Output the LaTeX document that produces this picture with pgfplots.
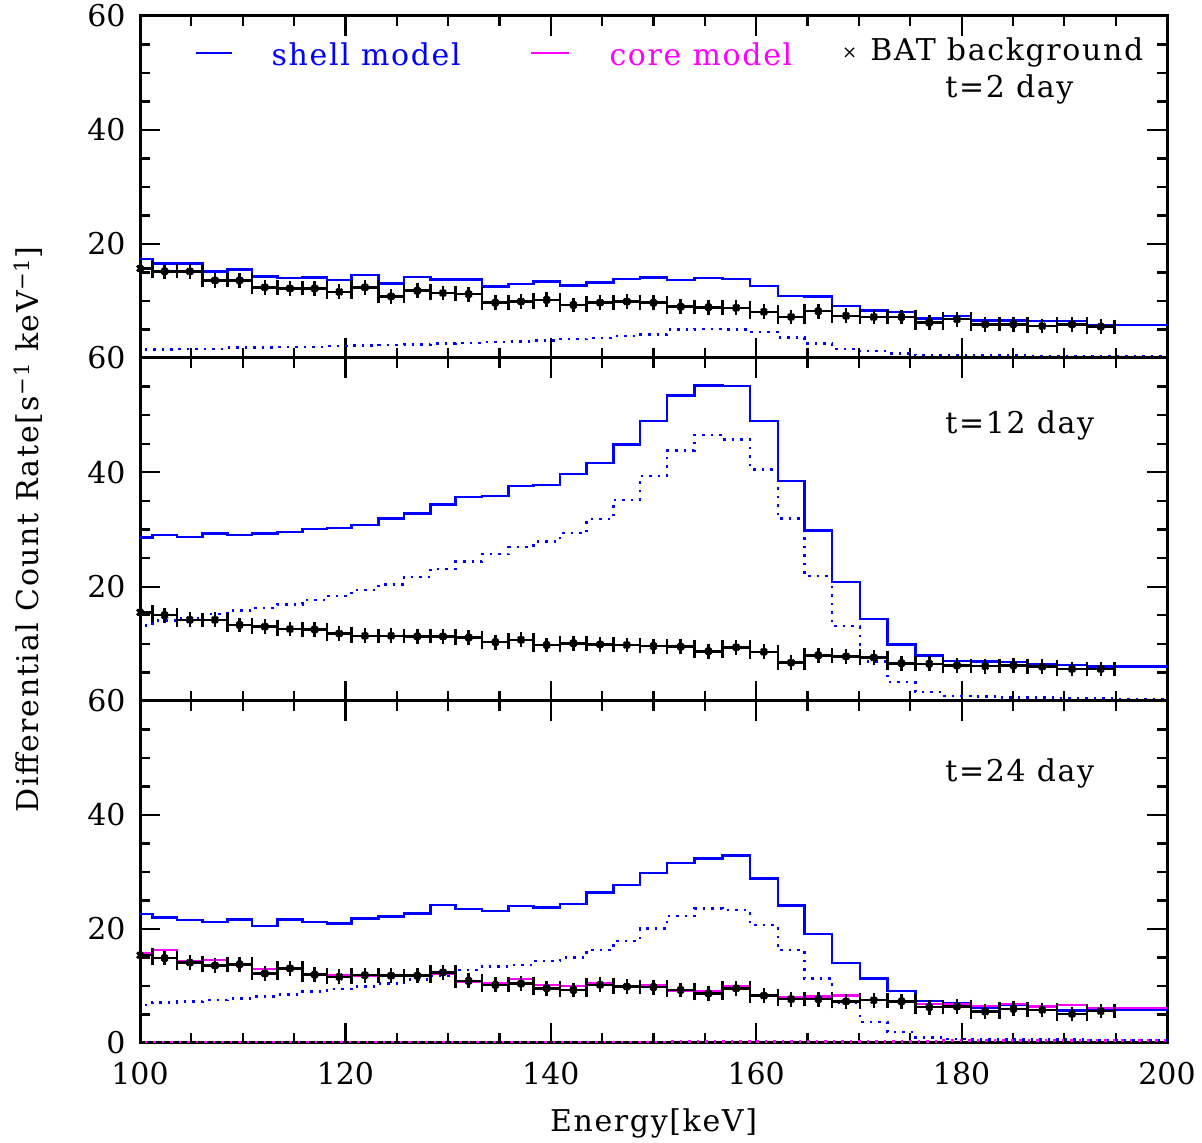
\documentclass[border=0pt]{standalone}
\usepackage{fontspec}
\setmainfont{DejaVu Serif}
\newfontfamily\lblfont[LetterSpace=5.5]{DejaVu Serif}
\usepackage{pgfplots}
\usepackage{pgfplotstable}
\pgfplotsset{compat=1.18}

% Channel edges (lo, hi) in keV; last two rows only continue the model to the frame
\pgfplotstableread{
lo hi shell dot bkg
98.8 101.2 17.4 1.5 15.7
101.2 103.6 16.6 1.5 15.2
103.6 106.1 16.6 1.6 15.2
106.1 108.5 15.2 1.6 13.6
108.5 110.9 15.5 1.8 13.6
110.9 113.4 14.3 1.8 12.4
113.4 115.8 14.0 1.9 12.2
115.8 118.2 14.1 1.9 12.2
118.2 120.6 13.7 2.1 11.6
120.6 123.2 14.6 2.2 12.4
123.2 125.7 13.1 2.3 10.8
125.7 128.3 14.2 2.4 11.8
128.3 130.7 13.8 2.5 11.4
130.7 133.3 13.8 2.6 11.2
133.3 135.9 12.5 2.8 9.7
135.9 138.3 13.0 2.9 9.9
138.3 140.9 13.4 3.1 10.2
140.9 143.5 12.7 3.3 9.3
143.5 146.1 13.2 3.5 9.7
146.1 148.7 13.9 3.9 9.9
148.7 151.3 14.1 4.1 9.7
151.3 154.0 13.7 5.0 9.0
154.0 156.7 14.0 5.1 8.9
156.7 159.4 13.9 5.0 8.8
159.4 162.1 12.6 4.6 8.1
162.1 164.7 10.9 3.6 7.2
164.7 167.4 10.8 2.5 8.2
167.4 170.1 9.1 1.6 7.4
170.1 172.8 8.3 1.2 7.2
172.8 175.5 8.1 0.8 7.2
175.5 178.2 6.9 0.5 6.2
178.2 180.9 7.4 0.5 6.8
180.9 183.7 6.6 0.4 5.9
183.7 186.4 6.6 0.4 5.9
186.4 189.3 6.5 0.3 5.6
189.3 192.2 6.5 0.3 5.9
192.2 194.9 5.8 0.3 5.5
194.9 200.5 5.8 0.3 nan
200.5 200.5 5.8 0.3 nan
}\daytwo

\pgfplotstableread{
lo hi shell dot bkg
98.8 101.2 28.6 13.2 15.5
101.2 103.6 29.0 14.1 15.0
103.6 106.1 28.7 14.5 14.2
106.1 108.5 29.3 15.2 14.2
108.5 110.9 29.0 15.8 13.3
110.9 113.4 29.3 16.3 13.0
113.4 115.8 29.6 16.9 12.6
115.8 118.2 30.1 17.7 12.5
118.2 120.6 30.3 18.4 11.8
120.6 123.2 30.8 19.4 11.4
123.2 125.7 31.9 20.4 11.4
125.7 128.3 32.8 21.7 11.3
128.3 130.7 34.4 23.1 11.3
130.7 133.3 35.7 24.4 11.1
133.3 135.9 35.9 25.7 10.3
135.9 138.3 37.6 26.9 10.7
138.3 140.9 37.8 27.9 9.8
140.9 143.5 39.7 29.4 10.1
143.5 146.1 41.6 31.8 9.9
146.1 148.7 44.9 35.2 9.8
148.7 151.3 49.0 39.4 9.6
151.3 154.0 53.4 43.8 9.5
154.0 156.7 55.2 46.5 8.7
156.7 159.4 55.1 45.7 9.4
159.4 162.1 49.0 40.5 8.6
162.1 164.7 38.5 31.9 6.7
164.7 167.4 29.8 21.9 8.0
167.4 170.1 20.8 13.1 7.8
170.1 172.8 14.3 6.9 7.6
172.8 175.5 9.9 3.3 6.6
175.5 178.2 8.0 1.6 6.5
178.2 180.9 7.0 0.9 6.2
180.9 183.7 6.9 0.8 6.1
183.7 186.4 6.8 0.6 6.2
186.4 189.3 6.5 0.6 6.0
189.3 192.2 6.3 0.5 5.6
192.2 194.9 6.0 0.5 5.6
194.9 200.5 6.0 0.35 nan
200.5 200.5 6.0 0.35 nan
}\daytwelve

\pgfplotstableread{
lo hi shell dot core coredot bkg
98.8 101.2 22.6 6.7 15.7 0.2 15.4
101.2 103.6 22.0 7.1 16.3 0.2 14.9
103.6 106.1 21.6 7.3 14.3 0.2 14.1
106.1 108.5 21.2 7.5 14.6 0.2 13.6
108.5 110.9 21.7 7.8 13.9 0.2 13.8
110.9 113.4 20.5 8.2 13.0 0.2 12.2
113.4 115.8 21.7 8.5 13.0 0.2 13.1
115.8 118.2 21.2 9.0 12.1 0.2 12.0
118.2 120.6 21.0 9.5 11.9 0.2 11.6
120.6 123.2 21.8 9.9 11.8 0.2 11.9
123.2 125.7 22.2 10.4 11.8 0.2 11.8
125.7 128.3 22.7 11.1 11.9 0.2 11.8
128.3 130.7 24.2 11.8 12.2 0.2 12.4
130.7 133.3 23.5 12.8 10.8 0.2 10.9
133.3 135.9 23.2 13.4 10.5 0.2 10.2
135.9 138.3 24.0 13.7 11.2 0.2 10.4
138.3 140.9 23.8 14.4 10.2 0.2 9.6
140.9 143.5 24.4 15.0 10.0 0.2 9.3
143.5 146.1 26.4 16.3 10.5 0.2 10.2
146.1 148.7 27.7 17.9 9.9 0.2 9.9
148.7 151.3 29.8 20.1 10.1 0.2 9.8
151.3 154.0 31.6 22.3 9.2 0.3 9.3
154.0 156.7 32.4 23.6 9.0 0.3 8.7
156.7 159.4 32.9 23.3 9.9 0.3 9.6
159.4 162.1 28.9 20.7 8.4 0.3 8.3
162.1 164.7 24.1 16.3 8.0 0.3 7.7
164.7 167.4 19.1 11.3 8.2 0.3 7.7
167.4 170.1 14.0 7.0 8.3 0.3 7.3
170.1 172.8 11.3 3.7 7.5 0.3 7.5
172.8 175.5 9.1 1.9 7.3 0.3 7.3
175.5 178.2 7.4 1.0 6.8 0.3 6.3
178.2 180.9 7.0 0.7 6.8 0.4 6.4
180.9 183.7 6.1 0.6 6.5 0.4 5.5
183.7 186.4 6.7 0.6 6.8 0.4 6.0
186.4 189.3 6.4 0.6 6.4 0.4 5.8
189.3 192.2 5.7 0.6 6.7 0.4 5.1
192.2 194.9 5.9 0.5 6.1 0.4 5.6
194.9 200.5 5.9 0.5 6.1 0.4 nan
200.5 200.5 5.9 0.5 6.1 0.4 nan
}\daytwentyfour

\definecolor{shellblue}{RGB}{0,0,255}
\definecolor{coremag}{RGB}{255,0,255}

\newcommand{\bigfont}{\fontsize{30}{36}\selectfont}
\newcommand{\labelfont}{\lblfont\fontsize{30}{36}\selectfont}

\pgfplotsset{
  panel/.style={
    width=1027pt, height=342pt, scale only axis,
    xmin=100, xmax=200, ymin=0, ymax=60,
    xtick={100,120,...,200}, minor x tick num=3,
    ytick={0,20,40,60}, minor y tick num=3,
    major tick length=20pt, minor tick length=10pt,
    tick style={line width=2.2pt, black},
    axis line style={line width=3pt},
    tick label style={font=\bigfont},
    xticklabel style={yshift=-16pt},
    yticklabel style={xshift=-11pt},
    /pgf/number format/assume math mode=true,
    anchor=south west,
  },
  shell/.style={const plot mark left, shellblue, line width=2.5pt},
  shelldot/.style={const plot mark left, shellblue, line width=2.5pt,
    dash pattern=on 2.5pt off 6pt},
  core/.style={const plot mark left, coremag, line width=2.5pt},
  coredot/.style={const plot mark left, coremag, line width=2.5pt,
    dash pattern=on 2.5pt off 6pt},
  bkgx/.style={only marks, mark=x, mark size=4pt, black, line width=2.5pt,
    error bars/.cd, x dir=both, x explicit, error mark=|,
    error bar style={line width=2.5pt, black},
    error mark options={black, line width=2.5pt, mark size=7pt}},
  bkgy/.style={only marks, mark=x, mark size=4pt, black, line width=2.5pt,
    error bars/.cd, y dir=both, y fixed=0.6,
    error bar style={line width=2.5pt, black},
    error mark options={black, line width=2.5pt, mark size=4pt}},
}

\newcommand{\bkgplots}[1]{%
  \addplot[bkgx] table[x expr={0.5*(\thisrow{lo}+\thisrow{hi})}, y=bkg,
    x error expr={0.5*(\thisrow{hi}-\thisrow{lo})}]{#1};
  \addplot[bkgy] table[x expr={0.5*(\thisrow{lo}+\thisrow{hi})}, y=bkg]{#1};
}

\begin{document}
\begin{tikzpicture}[font=\bigfont]
% t = 2 day
\begin{axis}[panel, at={(140pt,785pt)}, xticklabels={}, yticklabels={,20,40,60}]
  \addplot[shelldot] table[x=lo, y=dot]{\daytwo};
  \addplot[shell] table[x=lo, y=shell]{\daytwo};
  \bkgplots{\daytwo}
  \draw[shellblue, line width=2.5pt] (axis cs:105.5,53.5) -- (axis cs:109.0,53.5);
  \node[anchor=base west, inner sep=0pt, text=shellblue, font=\labelfont] at (axis cs:112.8,51.4) {shell model};
  \draw[coremag, line width=2.5pt] (axis cs:138.1,53.5) -- (axis cs:141.8,53.5);
  \node[anchor=base west, inner sep=0pt, text=coremag, font=\labelfont] at (axis cs:145.7,51.4) {core model};
  \node[inner sep=0pt, font=\fontsize{18}{20}\selectfont] at (axis cs:169.1,53.5) {×};
  \node[anchor=base west, inner sep=0pt, font=\labelfont] at (axis cs:171.1,52.2) {BAT background};
  \node[anchor=base west, inner sep=0pt, font=\labelfont] at (axis cs:178.4,45.7) {t=2 day};
\end{axis}
% t = 12 day
\begin{axis}[panel, at={(140pt,442pt)}, height=343pt, xticklabels={}, yticklabels={,20,40,60}]
  \addplot[shelldot] table[x=lo, y=dot]{\daytwelve};
  \addplot[shell] table[x=lo, y=shell]{\daytwelve};
  \bkgplots{\daytwelve}
  \node[anchor=base west, inner sep=0pt, font=\labelfont] at (axis cs:178.4,46.8) {t=12 day};
\end{axis}
% t = 24 day
\begin{axis}[panel, at={(140pt,100pt)}]
  \addplot[coredot] table[x=lo, y=coredot]{\daytwentyfour};
  \addplot[shelldot] table[x=lo, y=dot]{\daytwentyfour};
  \addplot[shell] table[x=lo, y=shell]{\daytwentyfour};
  \addplot[core] table[x=lo, y=core]{\daytwentyfour};
  \bkgplots{\daytwentyfour}
  \node[anchor=base west, inner sep=0pt, font=\labelfont] at (axis cs:178.4,45.8) {t=24 day};
\end{axis}
\node[font=\labelfont] at (653.5pt,20pt) {Energy[keV]};
\node[rotate=90, font=\labelfont] at (28pt,613.5pt) {Differential Count Rate[s\textsuperscript{−1} keV\textsuperscript{−1}]};
\pgfresetboundingbox
\path[use as bounding box] (0pt,0pt) rectangle (1202pt,1143pt);
\end{tikzpicture}
\end{document}
